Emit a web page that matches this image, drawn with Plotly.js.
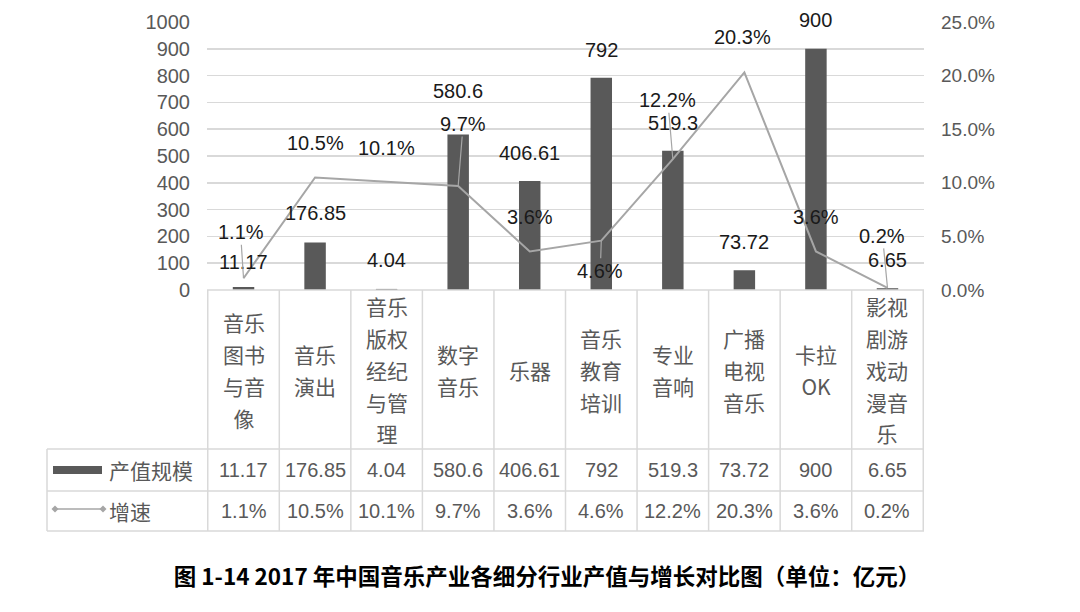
<!DOCTYPE html>
<html>
<head>
<meta charset="utf-8">
<script src="https://cdn.plot.ly/plotly-3.0.1.min.js"></script>
<style>
  body { margin: 0; background: #fff; }
  #chart { width: 1080px; height: 612px; }
</style>
</head>
<body>
<div id="chart"></div>
<script>
// values
var categories = ['音乐图书与音像', '音乐演出', '音乐版权经纪与管理', '数字音乐', '乐器',
                  '音乐教育培训', '专业音响', '广播电视音乐', '卡拉OK', '影视剧游戏动漫音乐']
var output = [11.17, 176.85, 4.04, 580.6, 406.61, 792, 519.3, 73.72, 900, 6.65]
var growth = [1.1, 10.5, 10.1, 9.7, 3.6, 4.6, 12.2, 20.3, 3.6, 0.2]
var seriesNames = ['产值规模', '增速']
var chartTitle = '图 1-14 2017 年中国音乐产业各细分行业产值与增长对比图（单位：亿元）'

// label placement (pixels), tuned to the picture
var barLabelShift = [25, 30, 29, 43, 28, 28, 28, 28, 29, 28]
var lineLabelAx = [-3, 0, 0, 5, 0, -1, -5, -2, 0, -5]
var lineLabelAy = [-46, -34, -34, -62, -34, 30, -59, -35, -34, -52]
var lineLeader = [true, false, false, true, false, true, true, false, false, true]

// plot box in pixels
var L = 207, R = 924, T = 22, B = 290
function px(x) { return (x - L) / (R - L) }
function py(y) { return (B - y) / (B - T) }

var dark = '#595959'
var lineGray = '#a6a6a6'
var border = '#d9d9d9'
var numFont = 'Liberation Sans, Noto Sans CJK SC, sans-serif'
var cjkFont = 'Noto Sans CJK SC, Liberation Sans, sans-serif'

function wrap(s) {
    var out = []
    for (var i = 0; i < s.length; i += 2) out.push(s.slice(i, i + 2))
    return out
}

var bars = {
    name: seriesNames[0],
    type: 'bar',
    x: categories,
    y: output,
    marker: { color: dark },
    hoverinfo: 'skip'
}
var line = {
    name: seriesNames[1],
    type: 'scatter',
    mode: 'lines',
    x: categories,
    y: growth,
    yaxis: 'y2',
    line: { color: lineGray, width: 2 },
    hoverinfo: 'skip'
}

var annotations = []
var shapes = []

for (var i = 0; i < categories.length; i++) {
    // bar value labels
    annotations.push({
        x: categories[i], y: output[i], xref: 'x', yref: 'y',
        text: String(output[i]), showarrow: false, yshift: barLabelShift[i],
        font: { family: numFont, size: 20, color: '#1a1a1a' }
    })
    // growth labels
    var g = {
        x: categories[i], y: growth[i], xref: 'x', yref: 'y2',
        text: growth[i].toFixed(1) + '%',
        font: { family: numFont, size: 20, color: '#1a1a1a' }
    }
    if (lineLeader[i]) {
        g.showarrow = true
        g.ax = lineLabelAx[i]
        g.ay = lineLabelAy[i]
        g.arrowhead = 0
        g.arrowwidth = 1.2
        g.arrowcolor = lineGray
    } else {
        g.showarrow = false
        g.xshift = lineLabelAx[i]
        g.yshift = -lineLabelAy[i]
    }
    annotations.push(g)

    // table header cell
    var lines = wrap(categories[i]).map(function (l) {
        return '<span style="font-size:21px">' + l + '</span>'
    })
    annotations.push({
        x: categories[i], xref: 'x', y: py(369.5), yref: 'paper',
        yanchor: 'middle', text: lines.join('<br>'), showarrow: false,
        font: { family: cjkFont, size: 24.5, color: dark }
    })
    // table value rows
    annotations.push({
        x: categories[i], xref: 'x', y: py(470), yref: 'paper', yanchor: 'middle',
        text: String(output[i]), showarrow: false,
        font: { family: numFont, size: 20, color: dark }
    })
    annotations.push({
        x: categories[i], xref: 'x', y: py(511), yref: 'paper', yanchor: 'middle',
        text: growth[i].toFixed(1) + '%', showarrow: false,
        font: { family: numFont, size: 20, color: dark }
    })
}

// table grid
for (var k = 0; k <= categories.length; k++) {
    shapes.push({
        type: 'line', xref: 'x', yref: 'paper',
        x0: k - 0.5, x1: k - 0.5, y0: py(290), y1: py(531),
        line: { color: border, width: 1.5 }
    })
}
shapes.push({ type: 'line', xref: 'paper', yref: 'paper', x0: px(47), x1: px(47),
    y0: py(449), y1: py(531), line: { color: border, width: 1.5 } })
;[290, 449, 491, 531].forEach(function (yy) {
    shapes.push({ type: 'line', xref: 'paper', yref: 'paper',
        x0: px(yy == 290 ? 207 : 47), x1: px(924), y0: py(yy), y1: py(yy),
        line: { color: border, width: 1.5 } })
})

// legend keys inside the table
shapes.push({ type: 'rect', xref: 'paper', yref: 'paper',
    x0: px(53), x1: px(102), y0: py(466), y1: py(474),
    fillcolor: dark, line: { width: 0 } })
shapes.push({ type: 'line', xref: 'paper', yref: 'paper',
    x0: px(55), x1: px(103), y0: py(509), y1: py(509),
    line: { color: lineGray, width: 1.5 } })
;[55, 103].forEach(function (cx) {
    var d = 3.5
    shapes.push({ type: 'path', xref: 'paper', yref: 'paper',
        path: 'M ' + px(cx - d) + ' ' + py(509) + ' L ' + px(cx) + ' ' + py(509 - d) +
              ' L ' + px(cx + d) + ' ' + py(509) + ' L ' + px(cx) + ' ' + py(509 + d) + ' Z',
        fillcolor: lineGray, line: { width: 0 } })
})
annotations.push({ x: px(107), y: py(470), xref: 'paper', yref: 'paper',
    xanchor: 'left', yanchor: 'middle', text: seriesNames[0], showarrow: false,
    font: { family: cjkFont, size: 21, color: dark } })
annotations.push({ x: px(107), y: py(511), xref: 'paper', yref: 'paper',
    xanchor: 'left', yanchor: 'middle', text: seriesNames[1], showarrow: false,
    font: { family: cjkFont, size: 21, color: dark } })

var layout = {
    width: 1080,
    height: 612,
    margin: { l: L, r: 1080 - R, t: T, b: 612 - B, pad: 0 },
    paper_bgcolor: '#fff',
    plot_bgcolor: '#fff',
    showlegend: false,
    bargap: 0.7,
    title: {
        text: '<b>' + chartTitle + '</b>',
        x: 547 / 1080, xanchor: 'center',
        y: 1 - 577 / 612, yanchor: 'middle',
        font: { family: cjkFont, size: 22.5, color: '#000' }
    },
    xaxis: {
        type: 'category',
        showticklabels: false,
        showgrid: false,
        zeroline: false,
        fixedrange: true
    },
    yaxis: {
        range: [0, 1000],
        dtick: 100,
        gridcolor: border,
        gridwidth: 1.5,
        zeroline: false,
        ticks: '',
        ticklabelstandoff: 16,
        tickfont: { family: numFont, size: 20, color: dark },
        fixedrange: true
    },
    yaxis2: {
        overlaying: 'y',
        side: 'right',
        range: [0, 25],
        dtick: 5,
        tickformat: '.1f',
        ticksuffix: '%',
        showgrid: false,
        zeroline: false,
        ticks: '',
        ticklabelstandoff: 16,
        tickfont: { family: numFont, size: 19, color: dark },
        fixedrange: true
    },
    annotations: annotations,
    shapes: shapes
}

var config = { responsive: false, displayModeBar: false, staticPlot: true }

Plotly.newPlot('chart', [bars, line], layout, config)
</script>
</body>
</html>
